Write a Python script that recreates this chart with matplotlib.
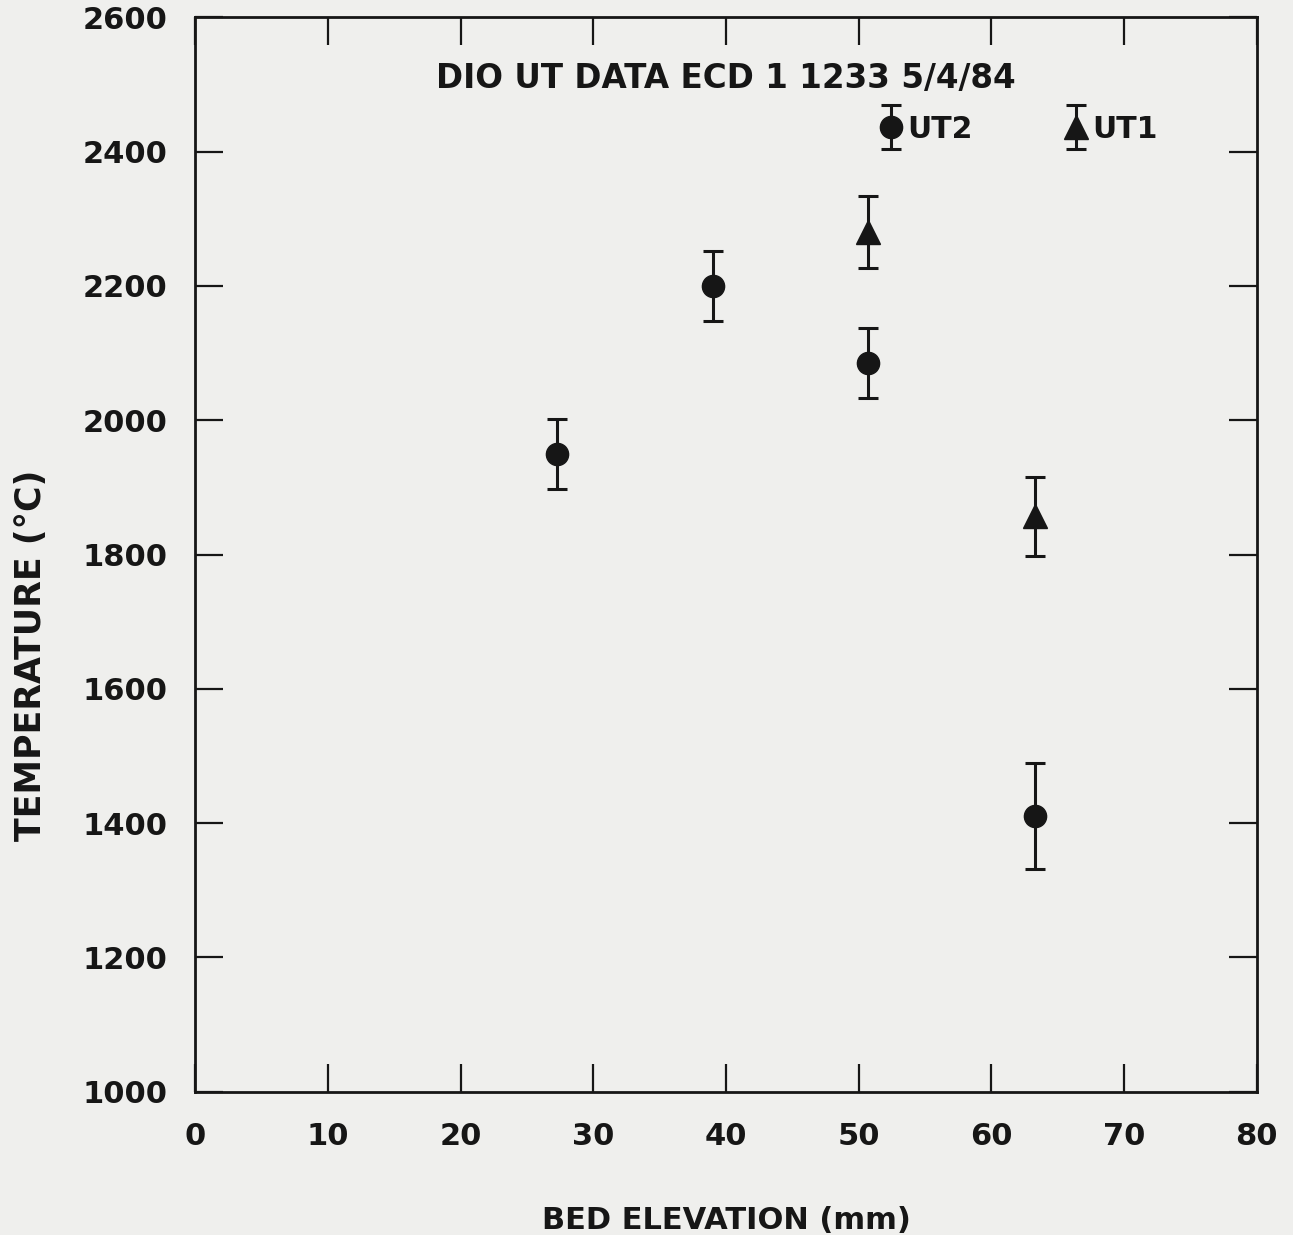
import matplotlib
matplotlib.use("Agg")
import matplotlib.pyplot as plt
from matplotlib.legend_handler import HandlerErrorbar
from matplotlib.container import ErrorbarContainer

# UT2 (circles) and UT1 (triangles)
ut2_elev = [27.3, 39.0, 50.7, 63.3]
ut2_temp = [1950, 2200, 2085, 1410]
ut2_err = [52, 52, 52, 79]

ut1_elev = [50.7, 63.3]
ut1_temp = [2280, 1857]
ut1_err = [54, 59]

x_ticks = [0, 10, 20, 30, 40, 50, 60, 70, 80]
y_ticks = [1000, 1200, 1400, 1600, 1800, 2000, 2200, 2400, 2600]

ink = "#161616"
bg = "#efefed"

plt.rcParams['font.family'] = ['DejaVu Sans']
plt.rcParams['font.weight'] = 'bold'

fig = plt.figure(figsize=(12.93, 12.35), dpi=100, facecolor=bg)
ax = fig.add_axes([0.151, 0.116, 0.821, 0.870])
ax.set_facecolor(bg)

style = dict(ls="none", color=ink, ecolor=ink, elinewidth=2.2,
             capsize=7, capthick=2.2)
h2 = ax.errorbar(ut2_elev, ut2_temp, yerr=ut2_err, marker="o",
                 markersize=16, **style)
h1 = ax.errorbar(ut1_elev, ut1_temp, yerr=ut1_err, marker="^",
                 markersize=17, **style)

ax.set_xlim(0, 80)
ax.set_ylim(1000, 2600)
ax.set_xticks(x_ticks)
ax.set_yticks(y_ticks)
ax.tick_params(direction="in", length=20, width=1.6, colors=ink,
               labelsize=22, top=True, right=True)
ax.tick_params(axis="x", pad=22)
ax.tick_params(axis="y", pad=20)
for s in ax.spines.values():
    s.set_linewidth(2)
    s.set_color(ink)

ax.set_xlabel("BED ELEVATION (mm)", fontsize=22, fontweight="bold", color=ink)
ax.set_ylabel("TEMPERATURE (°C)", fontsize=25, fontweight="bold", color=ink)
ax.xaxis.set_label_coords(0.50, -0.106)
ax.yaxis.set_label_coords(-0.139, 0.4065)

ax.text(0.5, 0.943, "DIO UT DATA ECD 1 1233 5/4/84", transform=ax.transAxes,
        ha="center", va="center", fontsize=23.5, fontweight="bold", color=ink)

leg = ax.legend([h2, h1], ["UT2", "UT1"], ncol=2, frameon=False,
                loc="center left", bbox_to_anchor=(0.62, 0.896),
                handlelength=0.7, handletextpad=0.2, columnspacing=3.1,
                handler_map={ErrorbarContainer: HandlerErrorbar(xerr_size=0.5, yerr_size=0.75)},
                prop={"size": 21.5, "weight": "bold"})
for t in leg.get_texts():
    t.set_color(ink)

fig.savefig("out.png", dpi=100, facecolor=bg)
